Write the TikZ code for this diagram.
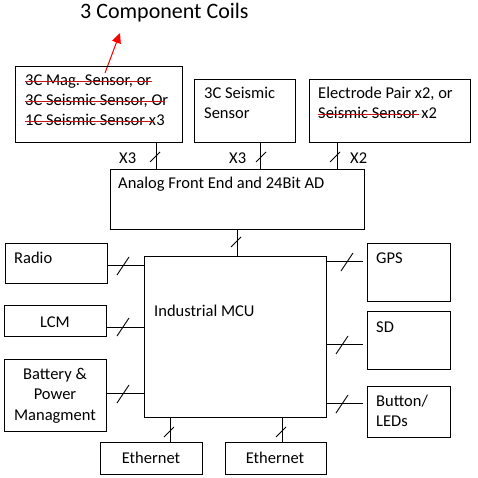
\documentclass[tikz,border=0pt]{standalone}
\usepackage{fontspec}
\setmainfont{Carlito}
\usetikzlibrary{arrows.meta,calc}
\definecolor{strk}{RGB}{200,20,20}
\begin{document}
\begin{tikzpicture}[x=1pt,y=-1pt,
  box/.style={draw, line width=1pt, inner sep=0pt, anchor=north west},
  lbl/.style={inner sep=0pt, anchor=base west, font=\fontsize{16.5}{19}\selectfont},
  clbl/.style={inner sep=0pt, anchor=base, font=\fontsize{16.5}{19}\selectfont},
  conn/.style={line width=1pt},
  strike/.style={strk, line width=1pt},
  tickv/.pic={\draw[line width=0.9pt] (-5,5) -- (5,-5);},
  tickh/.pic={\draw[line width=0.9pt] (-6,9) -- (6,-9);}]
\useasboundingbox[fill=white] (0,0) rectangle (478,478);
% title and arrow
\node[inner sep=0pt, anchor=base west, font=\fontsize{22}{26}\selectfont] (title) at (80,19) {3 Component Coils};
\coordinate (atail) at (105,73);
\coordinate (ahead) at (120,33);
\draw[red, line width=1pt, -{Triangle[length=10pt,width=9pt]}] (atail) -- (ahead);
% sensor boxes
\node[box, minimum width=167, minimum height=76] (s1) at (15,66) {};
\node[box, minimum width=101, minimum height=63] (s2) at (194,79) {};
\node[box, minimum width=161, minimum height=63] (s3) at (309,79) {};
\node[lbl] (s1a) at (25,86) {3C Mag. Sensor, or};
\node[lbl] (s1b) at (25,106) {3C Seismic Sensor, Or};
\node[lbl] (s1c) at (25,126) {1C Seismic Sensor x};
\node[lbl, anchor=base west] (s1d) at (s1c.base east) {3};
\node[lbl] (s2a) at (204,99) {3C Seismic};
\node[lbl] (s2b) at (204,119) {Sensor};
\node[lbl] (s3a) at (318,99) {Electrode Pair x2, or};
\node[lbl] (s3b) at (318,119) {Seismic Sensor};
\node[lbl, anchor=base west] (s3c) at (s3b.base east) {\ x2};
\draw[strike] ($(s1a.base west)+(0,-4.5)$) -- ($(s1a.base east)+(1,-4.5)$);
\draw[strike] ($(s1b.base west)+(0,-4.5)$) -- ($(s1b.base east)+(-3,-4.5)$);
\draw[strike] ($(s1c.base west)+(0,-4.5)$) -- ($(s1c.base east)+(-3,-4.5)$);
\draw[strike] ($(s3b.base west)+(0,-4.5)$) -- ($(s3b.base east)+(2,-4.5)$);
% AFE
\node[box, minimum width=254, minimum height=60] (afe) at (110,169) {};
\node[lbl] (afet) at (118,188) {Analog Front End and 24Bit AD};
% MCU
\node[box, minimum width=182, minimum height=161] (mcu) at (144,256) {};
\node[lbl] (mcut) at (154,316) {Industrial MCU};
% left peripherals
\node[box, minimum width=102, minimum height=40] (radio) at (5,243) {};
\node[lbl] (radiot) at (14,263) {Radio};
\node[box, minimum width=102, minimum height=31] (lcm) at (4,305) {};
\node[clbl] (lcmt) at (55,327) {LCM};
\node[box, minimum width=102, minimum height=72] (bat) at (4,359) {};
\node[clbl] (bata) at (55,379) {Battery \&};
\node[clbl] (batb) at (55,399) {Power};
\node[clbl] (batc) at (55,420) {Managment};
% right peripherals
\node[box, minimum width=83, minimum height=58] (gps) at (367,243) {};
\node[lbl] (gpst) at (376,263) {GPS};
\node[box, minimum width=83, minimum height=58] (sd) at (367,311) {};
\node[lbl] (sdt) at (376,332) {SD};
\node[box, minimum width=83, minimum height=51] (btn) at (367,386) {};
\node[lbl] (btna) at (376,406) {Button/};
\node[lbl] (btnb) at (376,426) {LEDs};
% ethernet
\node[box, minimum width=102, minimum height=32] (eth1) at (100,442) {};
\node[clbl] (eth1t) at (151,463) {Ethernet};
\node[box, minimum width=101, minimum height=32] (eth2) at (225,442) {};
\node[clbl] (eth2t) at (275,463) {Ethernet};
% connector coordinates
\coordinate (x1) at (156,0);
\coordinate (x2) at (260,0);
\coordinate (x3) at (337,0);
\coordinate (x4) at (237,0);
\coordinate (x5) at (170,0);
\coordinate (x6) at (282,0);
\coordinate (yr) at (0,265);
\coordinate (yl) at (0,327);
\coordinate (yb) at (0,393);
\coordinate (yg) at (0,261);
\coordinate (ys) at (0,344);
\coordinate (yt) at (0,403);
\coordinate (rend) at (363,0);
% vertical connectors
\draw[conn] (s1.south -| x1) -- (afe.north -| x1);
\draw[conn] (s2.south -| x2) -- (afe.north -| x2);
\draw[conn] (s3.south -| x3) -- (afe.north -| x3);
\draw[conn] (afe.south -| x4) -- (mcu.north -| x4);
\draw[conn] (mcu.south -| x5) -- (eth1.north -| x5);
\draw[conn] (mcu.south -| x6) -- (eth2.north -| x6);
% horizontal connectors
\draw[conn] (radio.east |- yr) -- (mcu.west |- yr);
\draw[conn] (lcm.east |- yl) -- (mcu.west |- yl);
\draw[conn] (bat.east |- yb) -- (mcu.west |- yb);
\draw[conn] (mcu.east |- yg) -- (rend |- yg);
\draw[conn] (mcu.east |- ys) -- (rend |- ys);
\draw[conn] (mcu.east |- yt) -- (rend |- yt);
% bus ticks
\pic at (155,157) {tickv};
\pic at (261,157) {tickv};
\pic at (335,157) {tickv};
\pic at (236,242) {tickv};
\pic at (169,432) {tickv};
\pic at (281,432) {tickv};
\pic at (123,266) {tickh};
\pic at (123,327) {tickh};
\pic at (123,394) {tickh};
\pic at (347,262) {tickh};
\pic at (342,345) {tickh};
\pic at (342,404) {tickh};
% bus labels
\node[lbl] (l1) at (119,164) {X3};
\node[lbl] (l2) at (229,164) {X3};
\node[lbl] (l3) at (350,164) {X2};
\end{tikzpicture}
\end{document}
